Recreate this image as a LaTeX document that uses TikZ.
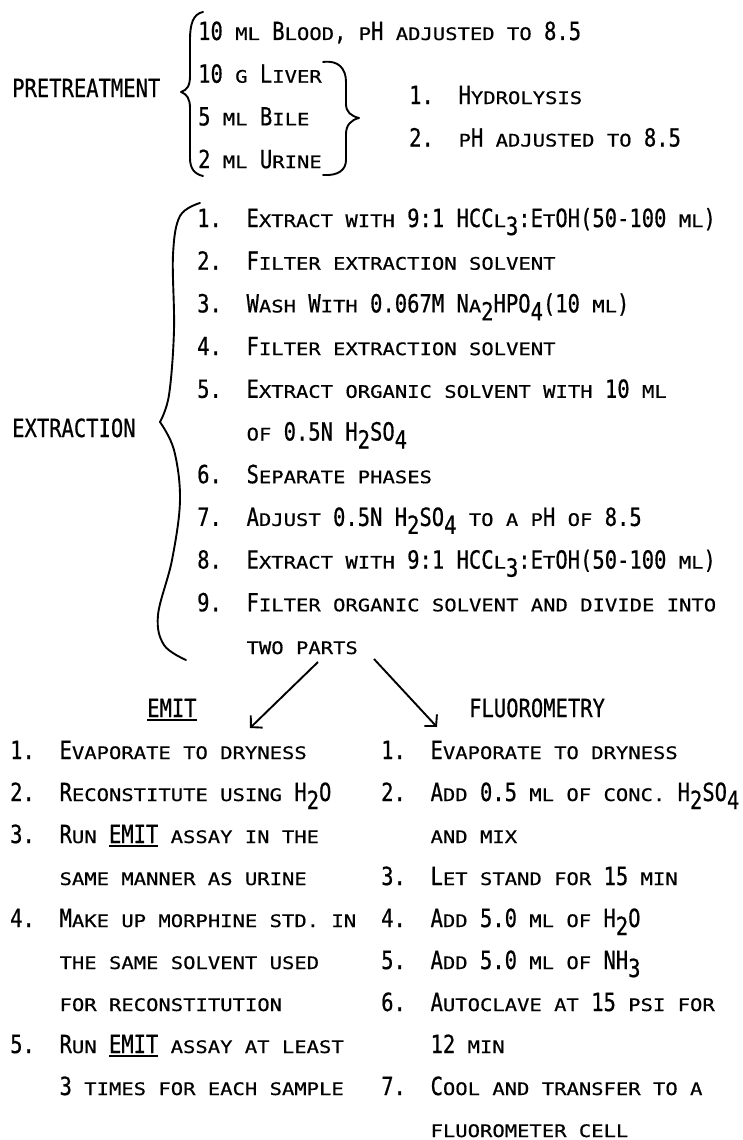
\documentclass[tikz,border=0pt]{standalone}
\usepackage{fontspec}
\usepackage{tikz}
\usetikzlibrary{positioning,calc,arrows.meta}

\newfontfamily\typefont[FakeStretch=0.82,FakeBold=0.6]{DejaVu Sans Mono}
\newfontfamily\scfont[Scale=0.69,FakeStretch=1.19,FakeBold=0.6]{DejaVu Sans Mono}
\newcommand{\smc}[1]{{\scfont #1}}
\newcommand{\lowr}[1]{\raisebox{-8pt}{#1}}
\newcommand{\itemno}[1]{\makebox[49.4pt][l]{#1}}
\newcommand{\under}[1]{\setbox0\hbox{#1}\rlap{\rule[-3.5pt]{\wd0}{1.5pt}}\box0\relax}
\frenchspacing

\begin{document}
\begin{tikzpicture}[x=1pt, y=-1pt, txt/.style={anchor=base west, inner sep=0pt, font=\typefont\fontsize{25pt}{30pt}\selectfont}, brace/.style={line width=1.9pt, line cap=round, line join=round}, >={Straight Barb[length=8pt,width=17pt]}]

\useasboundingbox (0,0) rectangle (742,1140);

\node[txt] (pre) at (12,97) {PRETREATMENT};
\begin{scope}[shift={(198,40)}] %samples
\node[txt] (blood) at (0,0) {10 \smc{ML} B\smc{LOOD}, \smc{P}H \smc{ADJUSTED TO} 8.5};
\node[txt] (liver) at (0,42.7) {10 \smc{G} L\smc{IVER}};
\node[txt] (bile) at (0,85.4) {5 \smc{ML} B\smc{ILE}};
\node[txt] (urine) at (0,128.1) {2 \smc{ML} U\smc{RINE}};
\end{scope}
\begin{scope}[shift={(409,104)}] %hydrolysis steps
\node[txt] (hydro) at (0,0) {\itemno{1.}H\smc{YDROLYSIS}};
\node[txt] (phadj) at (0,42.5) {\itemno{2.}\smc{P}H \smc{ADJUSTED TO} 8.5};
\end{scope}

\draw[brace] (203,12) .. controls (193,14) and (190,24) .. (190,40) -- (190,76) .. controls (190,86) and (187,90) .. (181,92) .. controls (187,94) and (190,99) .. (190,108) -- (190,158) .. controls (190,168) and (194,174) .. (203,176);
\draw[brace] (323,62) .. controls (338,60) and (346,68) .. (346,82) -- (346,104) .. controls (346,112) and (351,116) .. (359,118) .. controls (351,120) and (346,125) .. (346,134) -- (346,160) .. controls (346,170) and (338,176) .. (323,175);


\node[txt] (extr) at (12,437) {EXTRACTION};
\begin{scope}[shift={(197,227)}] %extraction steps
\node[txt] (e1) at (0,0) {\itemno{1.}E\smc{XTRACT WITH} 9:1 HCC\smc{L}\lowr{3}:E\smc{T}OH(50-100 \smc{ML})};
\node[txt] (e2) at (0,42.7) {\itemno{2.}F\smc{ILTER EXTRACTION SOLVENT}};
\node[txt] (e3) at (0,85.4) {\itemno{3.}W\smc{ASH} W\smc{ITH} 0.067M N\smc{A}\lowr{2}HPO\lowr{4}(10 \smc{ML})};
\node[txt] (e4) at (0,128.1) {\itemno{4.}F\smc{ILTER EXTRACTION SOLVENT}};
\node[txt] (e5) at (0,170.8) {\itemno{5.}E\smc{XTRACT ORGANIC SOLVENT WITH} 10 \smc{ML}};
\node[txt] (e5b) at (0,213.5) {\itemno{}\smc{OF} 0.5N H\lowr{2}SO\lowr{4}};
\node[txt] (e6) at (0,256.2) {\itemno{6.}S\smc{EPARATE PHASES}};
\node[txt] (e7) at (0,298.9) {\itemno{7.}A\smc{DJUST} 0.5N H\lowr{2}SO\lowr{4} \smc{TO A} \smc{P}H \smc{OF} 8.5};
\node[txt] (e8) at (0,341.6) {\itemno{8.}E\smc{XTRACT WITH} 9:1 HCC\smc{L}\lowr{3}:E\smc{T}OH(50-100 \smc{ML})};
\node[txt] (e9) at (0,384.3) {\itemno{9.}F\smc{ILTER ORGANIC SOLVENT AND DIVIDE INTO}};
\node[txt] (twoparts) at (0,427) {\itemno{}\smc{TWO PARTS}};
\end{scope}

\draw[brace] plot[smooth, tension=0.6] coordinates {(200,203) (180,216) (173,255) (174,330) (169,395) (160,422)};
\draw[brace] plot[smooth, tension=0.6] coordinates {(160,422) (174,450) (180,500) (172,560) (158,615) (164,645) (186,660)};

\coordinate (splitL) at (318,662);
\coordinate (splitR) at (374,659);
\coordinate (toEmit) at (250,728);
\coordinate (toFluor) at (437,727);
\path[->] (splitL) edge[line width=1.9pt] (toEmit)
    (splitR) edge[line width=1.9pt] (toFluor);

\node[txt] (emit) at (147,717) {\under{EMIT}};
\node[txt] (fluor) at (469,717) {FLUOROMETRY};

\begin{scope}[shift={(10,759)}] %emit column
\node[txt] (m1) at (0,0) {\itemno{1.}E\smc{VAPORATE TO DRYNESS}};
\node[txt] (m2) at (0,42) {\itemno{2.}R\smc{ECONSTITUTE USING} H\lowr{2}O};
\node[txt] (m3) at (0,84) {\itemno{3.}R\smc{UN} \under{EMIT} \smc{ASSAY IN THE}};
\node[txt] (m3b) at (0,126) {\itemno{}\smc{SAME MANNER AS URINE}};
\node[txt] (m4) at (0,168) {\itemno{4.}M\smc{AKE UP MORPHINE STD. IN}};
\node[txt] (m4b) at (0,210) {\itemno{}\smc{THE SAME SOLVENT USED}};
\node[txt] (m4c) at (0,252) {\itemno{}\smc{FOR RECONSTITUTION}};
\node[txt] (m5) at (0,294) {\itemno{5.}R\smc{UN} \under{EMIT} \smc{ASSAY AT LEAST}};
\node[txt] (m5b) at (0,336) {\itemno{}3 \smc{TIMES FOR EACH SAMPLE}};
\end{scope}

\begin{scope}[shift={(381,759)}] %fluorometry column
\node[txt] (f1) at (0,0) {\itemno{1.}E\smc{VAPORATE TO DRYNESS}};
\node[txt] (f2) at (0,42) {\itemno{2.}A\smc{DD} 0.5 \smc{ML OF CONC.} H\lowr{2}SO\lowr{4}};
\node[txt] (f2b) at (0,84) {\itemno{}\smc{AND MIX}};
\node[txt] (f3) at (0,126) {\itemno{3.}L\smc{ET STAND FOR} 15 \smc{MIN}};
\node[txt] (f4) at (0,168) {\itemno{4.}A\smc{DD} 5.0 \smc{ML OF} H\lowr{2}O};
\node[txt] (f5) at (0,210) {\itemno{5.}A\smc{DD} 5.0 \smc{ML OF} NH\lowr{3}};
\node[txt] (f6) at (0,252) {\itemno{6.}A\smc{UTOCLAVE AT} 15 \smc{PSI FOR}};
\node[txt] (f6b) at (0,294) {\itemno{}12 \smc{MIN}};
\node[txt] (f7) at (0,336) {\itemno{7.}C\smc{OOL AND TRANSFER TO A}};
\node[txt] (f7b) at (0,378) {\itemno{}\smc{FLUOROMETER CELL}};
\end{scope}
\end{tikzpicture}
\end{document}
